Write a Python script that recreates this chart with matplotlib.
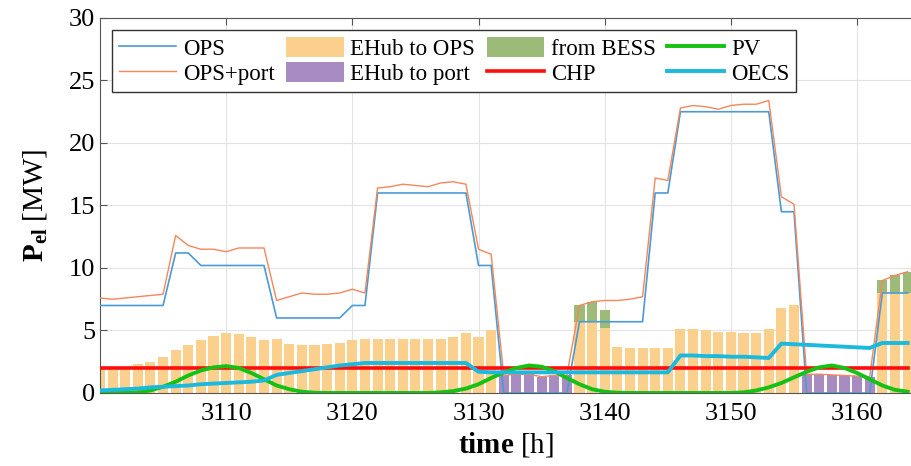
import matplotlib
matplotlib.use("Agg")
import matplotlib.pyplot as plt
import numpy as np

plt.rcParams['font.family'] = ['Liberation Serif', 'DejaVu Serif']
plt.rcParams['mathtext.fontset'] = 'custom'
plt.rcParams['mathtext.rm'] = 'Liberation Serif'
plt.rcParams['mathtext.bf'] = 'Liberation Serif:bold'

# ---------------- data (hourly 3100..3164) ----------------
hours = np.arange(3100, 3165)

ops = [7.0, 7.0, 7.0, 7.0, 7.0, 7.0, 11.2, 11.2, 10.2, 10.2,
       10.2, 10.2, 10.2, 10.2, 6.0, 6.0, 6.0, 6.0, 6.0, 6.0,
       7.0, 7.0, 16.0, 16.0, 16.0, 16.0, 16.0, 16.0, 16.0, 16.0,
       10.2, 10.2, 0.0, 0.0, 0.0, 0.0, 0.0, 0.0, 5.7, 5.7,
       5.7, 5.7, 5.7, 5.7, 16.0, 16.0, 22.5, 22.5, 22.5, 22.5,
       22.5, 22.5, 22.5, 22.5, 14.5, 14.5, 0.0, 0.0, 0.0, 0.0,
       0.0, 0.0, 8.0, 8.0, 8.0]

ops_port = [7.6, 7.5, 7.6, 7.7, 7.8, 7.9, 12.6, 11.8, 11.5, 11.5,
            11.3, 11.6, 11.6, 11.6, 7.4, 7.7, 8.0, 7.9, 7.9, 8.0,
            8.3, 8.0, 16.4, 16.5, 16.7, 16.6, 16.5, 16.8, 16.9, 16.7,
            11.5, 11.1, 1.4, 1.5, 1.5, 1.3, 1.4, 1.4, 7.0, 7.3,
            7.4, 7.4, 7.5, 7.7, 17.2, 17.0, 22.8, 23.0, 22.9, 22.7,
            23.0, 23.1, 23.1, 23.4, 15.7, 15.1, 1.5, 1.5, 1.45, 1.4,
            1.35, 1.3, 9.0, 9.4, 9.7]

ehub_ops = [1.9, 2.0, 2.1, 2.3, 2.5, 2.9, 3.4, 3.8, 4.2, 4.55,
            4.8, 4.75, 4.5, 4.2, 4.3, 3.9, 3.8, 3.8, 3.9, 4.0,
            4.2, 4.3, 4.3, 4.3, 4.3, 4.3, 4.3, 4.3, 4.5, 4.8,
            4.5, 5.0, 0, 0, 0, 0, 0, 0, 5.7, 5.7,
            5.2, 3.7, 3.6, 3.6, 3.6, 3.6, 5.1, 5.1, 5.0, 4.9,
            4.9, 4.8, 4.8, 5.1, 6.8, 7.0, 0, 0, 0, 0,
            0, 0, 8.0, 8.0, 8.0]

ehub_port = [0, 0, 0, 0, 0, 0, 0, 0, 0, 0,
             0, 0, 0, 0, 0, 0, 0, 0, 0, 0,
             0, 0, 0, 0, 0, 0, 0, 0, 0, 0,
             0, 0, 1.4, 1.5, 1.5, 1.3, 1.4, 1.4, 0, 0,
             0, 0, 0, 0, 0, 0, 0, 0, 0, 0,
             0, 0, 0, 0, 0, 0, 1.5, 1.5, 1.45, 1.4,
             1.35, 1.3, 0, 0, 0]

bess = [0, 0, 0, 0, 0, 0, 0, 0, 0, 0,
        0, 0, 0, 0, 0, 0, 0, 0, 0, 0,
        0, 0, 0, 0, 0, 0, 0, 0, 0, 0,
        0, 0, 0, 0, 0, 0, 0, 0, 1.3, 1.6,
        1.4, 0, 0, 0, 0, 0, 0, 0, 0, 0,
        0, 0, 0, 0, 0, 0, 0, 0, 0, 0,
        0, 0, 1.0, 1.4, 1.7]

chp = [2.0] * len(hours)

pv = [0, 0, 0, 0.05, 0.2, 0.5, 0.9, 1.4, 1.8, 2.05,
      2.15, 2.0, 1.6, 1.1, 0.6, 0.3, 0.1, 0.02, 0, 0,
      0, 0, 0, 0, 0, 0, 0, 0.05, 0.15, 0.35,
      0.7, 1.2, 1.65, 2.0, 2.2, 2.1, 1.75, 1.2, 0.7, 0.3,
      0.1, 0.02, 0, 0, 0, 0, 0, 0, 0, 0,
      0, 0.05, 0.2, 0.45, 0.8, 1.25, 1.7, 2.05, 2.2, 2.0,
      1.6, 1.1, 0.6, 0.25, 0.1]

oecs = [0.2, 0.25, 0.3, 0.35, 0.45, 0.5, 0.55, 0.6, 0.7, 0.75,
        0.8, 0.85, 0.9, 1.0, 1.45, 1.6, 1.75, 1.9, 2.05, 2.2,
        2.3, 2.4, 2.4, 2.4, 2.4, 2.4, 2.4, 2.4, 2.4, 2.4,
        1.7, 1.65, 1.65, 1.65, 1.65, 1.65, 1.65, 1.65, 1.65, 1.65,
        1.65, 1.65, 1.65, 1.65, 1.65, 1.65, 3.0, 3.0, 2.95, 2.95,
        2.9, 2.9, 2.85, 2.8, 3.95, 3.9, 3.85, 3.8, 3.75, 3.7,
        3.65, 3.6, 4.0, 4.0, 4.0]

# ---------------- plot ----------------
fig = plt.figure(figsize=(9.12, 4.66), dpi=100)
ax = fig.add_axes([0.1096, 0.1567, 0.8904, 0.8047])

ax.grid(True, color='#e3e3e3', lw=0.8, zorder=0)
ax.set_axisbelow(True)

ax.plot(hours, ops, color='#4A9BD4', lw=1.2, label='OPS', zorder=4)
ax.plot(hours, ops_port, color='#F5875A', lw=1.0, label='OPS+port', zorder=4)
ax.bar(hours, ehub_ops, width=0.8, color='#FBCF8C', label='EHub to OPS', zorder=2)
ax.bar(hours, ehub_port, width=0.8, color='#A88BC0', label='EHub to port', zorder=2)
ax.bar(hours, bess, width=0.8, bottom=ehub_ops, color='#9CBB78', label='from BESS', zorder=2)
ax.plot(hours, pv, color='#14C214', lw=2.8, label='PV', zorder=6)
ax.plot(hours, chp, color='#FF0D0D', lw=2.6, label='CHP', zorder=5)
ax.plot(hours, oecs, color='#1BB9DE', lw=2.8, label='OECS', zorder=7)

ax.set_xlim(3100, 3164.35)
ax.set_ylim(0, 30)
ax.set_xticks([3110, 3120, 3130, 3140, 3150, 3160])
ax.set_yticks([0, 5, 10, 15, 20, 25, 30])
ax.tick_params(direction='in', top=True, right=False, labelsize=19, length=5, color='#555555')
ax.tick_params(axis='x', pad=7)
ax.spines['right'].set_visible(False)
for s in ['left', 'top', 'bottom']:
    ax.spines[s].set_color('#555555')

ax.set_xlabel(r'$\mathbf{time}$ [h]', fontsize=21, labelpad=4)
ax.set_ylabel(r'$\mathbf{P_{el}}$ [MW]', fontsize=21, labelpad=14)

h, l = ax.get_legend_handles_labels()
order = ['OPS', 'OPS+port', 'EHub to OPS', 'EHub to port', 'from BESS', 'CHP', 'PV', 'OECS']
hd = dict(zip(l, h))
leg = ax.legend([hd[k] for k in order], order, ncol=4, loc='upper left',
                bbox_to_anchor=(0.0148, 0.968), borderaxespad=0, fontsize=16.5,
                frameon=True, fancybox=False, edgecolor='#333333', framealpha=1,
                handlelength=2.5, handleheight=1.0, labelspacing=0.08,
                columnspacing=0.5, handletextpad=0.3, borderpad=0.3)
leg.get_frame().set_linewidth(1.0)

fig.savefig('out.png', dpi=100)
